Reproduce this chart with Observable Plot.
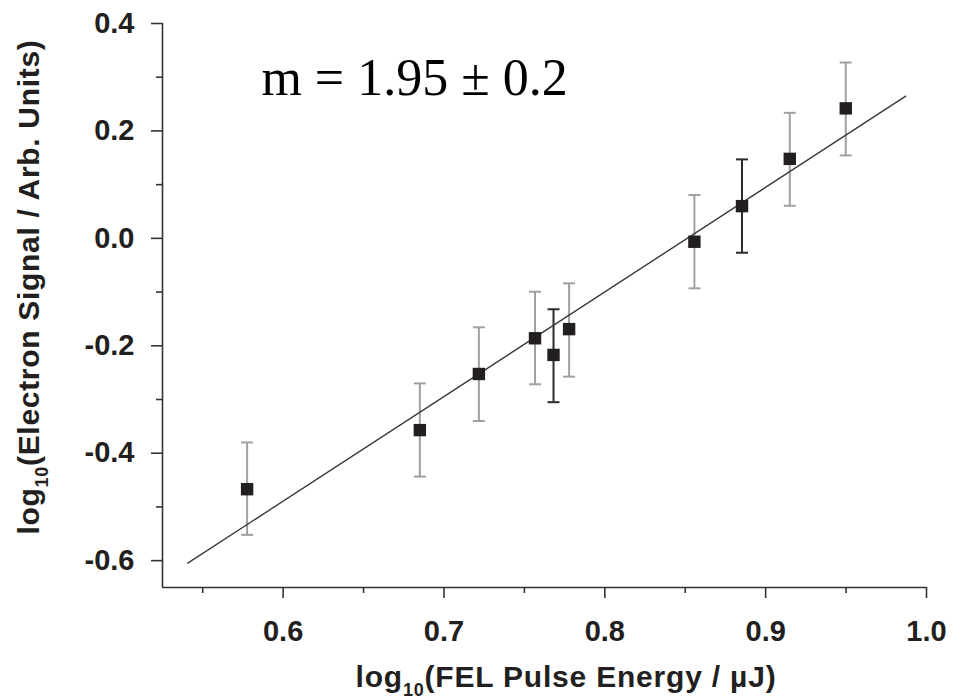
<!DOCTYPE html>
<html><head><meta charset="utf-8">
<script src="https://cdn.jsdelivr.net/npm/d3@7"></script>
<script src="https://cdn.jsdelivr.net/npm/@observablehq/plot@0.6"></script>
<style>body{margin:0;background:#fff}</style>
</head><body><div id="chart"></div>
<script>
// Data
const energy = [0.5776, 0.6850, 0.7217, 0.7566, 0.7681, 0.7778, 0.8557, 0.8853, 0.9150, 0.9498];
const signal = [-0.467, -0.357, -0.2525, -0.186, -0.217, -0.169, -0.0063, 0.060, 0.148, 0.242];
const errHigh = [-0.380, -0.270, -0.1656, -0.0993, -0.132, -0.0837, 0.0806, 0.147, 0.2337, 0.3274];
const errLow = [-0.552, -0.4435, -0.340, -0.2716, -0.305, -0.2575, -0.093, -0.0268, 0.0607, 0.1544];
const runSet = ["A", "A", "A", "A", "B", "A", "A", "B", "A", "A"];
const fitX = [0.5407, 0.9871];
const fitY = [-0.6047, 0.2647];
const slopeLabel = "m = 1.95 \u00b1 0.2";
const slopeLabelPos = {x: 0.5865, y: 0.2666};
const xTicks = [0.6, 0.7, 0.8, 0.9, 1.0];
const xMinor = [0.55, 0.65, 0.75, 0.85, 0.95];
const yTicks = [0.4, 0.2, 0.0, -0.2, -0.4, -0.6];
const yMinor = [0.3, 0.1, -0.1, -0.3, -0.5];
const xDomain = [0.525, 1.0];
const yDomain = [-0.65, 0.4];

const rows = energy.map((e, i) => ({energy: e, signal: signal[i], high: errHigh[i], low: errLow[i], set: runSet[i]}));
const fit = fitX.map((x, i) => ({x, y: fitY[i]}));

const capSymbol = {draw(ctx, size) { const r = Math.sqrt(size / Math.PI); ctx.moveTo(-r, 0); ctx.lineTo(r, 0); }};
const fmt = d => d.toFixed(1);

const chart = Plot.plot({
  width: 953, height: 699,
  marginLeft: 162, marginRight: 27, marginTop: 23, marginBottom: 112,
  style: {fontFamily: "'Liberation Sans', Arial, sans-serif", fontSize: "29px", fontWeight: "bold", color: "#231f20", background: "#fff"},
  x: {domain: xDomain},
  y: {domain: yDomain},
  color: {domain: ["A", "B"], range: ["#a0a0a0", "#2b2b2b"]},
  marks: [
    Plot.ruleX([xDomain[0]], {stroke: "#333", strokeWidth: 1.6}),
    Plot.ruleY([yDomain[0]], {stroke: "#333", strokeWidth: 1.6}),
    Plot.axisX(xTicks, {tickSize: 11, tickPadding: 22, tickFormat: fmt, label: null, strokeWidth: 1.6, stroke: "#333"}),
    Plot.axisX(xMinor, {tickSize: 6, tickFormat: () => "", label: null, strokeWidth: 1.6, stroke: "#333"}),
    Plot.axisY(yTicks, {tickSize: 11, tickPadding: 17, tickFormat: fmt, label: null, strokeWidth: 1.6, stroke: "#333"}),
    Plot.axisY(yMinor, {tickSize: 6, tickFormat: () => "", label: null, strokeWidth: 1.6, stroke: "#333"}),
    Plot.ruleX(rows, {x: "energy", y1: "low", y2: "high", stroke: "set", strokeWidth: 2}),
    Plot.dot(rows, {x: "energy", y: "high", symbol: capSymbol, r: 6, stroke: "set", fill: "none", strokeWidth: 2}),
    Plot.dot(rows, {x: "energy", y: "low", symbol: capSymbol, r: 6, stroke: "set", fill: "none", strokeWidth: 2}),
    Plot.line(fit, {x: "x", y: "y", stroke: "#3a3a3a", strokeWidth: 1.4}),
    Plot.dot(rows, {x: "energy", y: "signal", symbol: "square", r: 7, fill: "#231f20", stroke: null}),
    Plot.text([slopeLabel], {x: () => slopeLabelPos.x, y: () => slopeLabelPos.y, text: d => d, textAnchor: "start", lineAnchor: "bottom", fontFamily: "'Liberation Serif', 'Times New Roman', serif", fontSize: 52, fontWeight: "normal", fill: "#000"})
  ]
});

const svg = d3.select(chart);
// x-axis title with subscript
const xt = svg.append("text")
  .attr("x", 566).attr("y", 687)
  .attr("text-anchor", "middle")
  .attr("font-size", 30).attr("font-weight", "bold").attr("fill", "#231f20")
  .attr("letter-spacing", 0.8)
  .attr("font-family", "'Liberation Sans', Arial, sans-serif");
xt.append("tspan").text("log");
xt.append("tspan").attr("font-size", 18).attr("dy", 9).text("10");
xt.append("tspan").attr("dy", -9).text("(FEL Pulse Energy / \u00b5J)");
// y-axis title with subscript
const yt = svg.append("text")
  .attr("transform", "translate(39,287) rotate(-90)")
  .attr("text-anchor", "middle")
  .attr("font-size", 30).attr("font-weight", "bold").attr("fill", "#231f20")
  .attr("letter-spacing", 0.7)
  .attr("font-family", "'Liberation Sans', Arial, sans-serif");
yt.append("tspan").text("log");
yt.append("tspan").attr("font-size", 18).attr("dy", 9).text("10");
yt.append("tspan").attr("dy", -9).text("(Electron Signal / Arb. Units)");

document.getElementById("chart").appendChild(chart);
</script></body></html>
